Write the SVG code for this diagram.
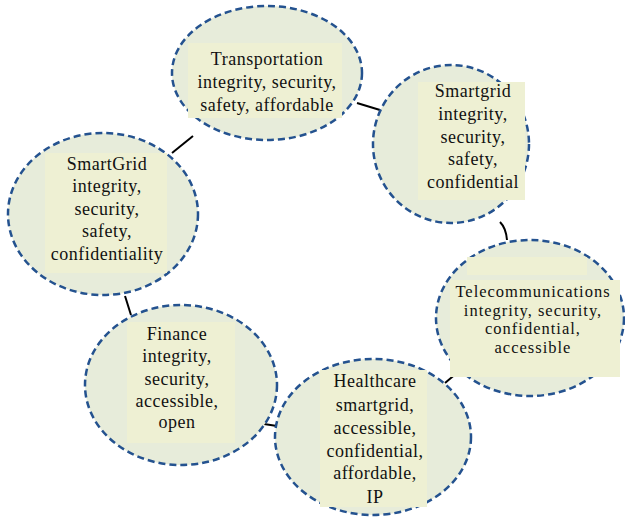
<svg xmlns="http://www.w3.org/2000/svg" width="625" height="519" viewBox="0 0 625 519">
<style>
.e{fill:#e7ecda;stroke:#24528f;stroke-width:2.5;stroke-dasharray:7 4}
.b{fill:#eef0d3}
.t{font-family:"Liberation Serif","Times New Roman",serif;font-size:18px;fill:#111;text-anchor:middle;letter-spacing:0.5px}
.s{font-size:16.5px;letter-spacing:1px}
.c{fill:none;stroke:#000;stroke-width:2}
</style>
<rect width="625" height="519" fill="#fff"/>
<g id="connectors">
<path class="c" d="M357 103 L380 110"/>
<path class="c" d="M172 153 L193 136"/>
<path class="c" d="M500 222 Q506 228 507 240"/>
<path class="c" d="M458 372 L445 383"/>
<path class="c" d="M264 424 L277 426"/>
<path class="c" d="M125 296 L131 315"/>
</g>
<g id="transportation">
<ellipse class="e" cx="267" cy="73" rx="95" ry="67"/>
<rect class="b" x="188" y="43" width="154" height="75"/>
<text class="t" x="267" y="65">Transportation</text>
<text class="t" x="267" y="88">integrity, security,</text>
<text class="t" x="267" y="111">safety, affordable</text>
</g>
<g id="smartgrid-right">
<ellipse class="e" cx="451" cy="144" rx="78" ry="79"/>
<rect class="b" x="418" y="82" width="107" height="118"/>
<text class="t" x="473" y="97">Smartgrid</text>
<text class="t" x="473" y="120">integrity,</text>
<text class="t" x="473" y="143">security,</text>
<text class="t" x="473" y="165">safety,</text>
<text class="t" x="473" y="188">confidential</text>
</g>
<g id="smartgrid-left">
<ellipse class="e" cx="103" cy="214" rx="95" ry="81"/>
<rect class="b" x="45" y="153" width="122" height="120"/>
<text class="t" x="107" y="170">SmartGrid</text>
<text class="t" x="107" y="192">integrity,</text>
<text class="t" x="107" y="215">security,</text>
<text class="t" x="107" y="237">safety,</text>
<text class="t" x="107" y="260">confidentiality</text>
</g>
<g id="telecommunications">
<ellipse class="e" cx="530" cy="318" rx="94" ry="78"/>
<rect class="b" x="467" y="257" width="120" height="18"/>
<rect class="b" x="450" y="280" width="170" height="97"/>
<text class="t s" x="533" y="297">Telecommunications</text>
<text class="t s" x="533" y="316">integrity, security,</text>
<text class="t s" x="533" y="334">confidential,</text>
<text class="t s" x="533" y="353">accessible</text>
</g>
<g id="finance">
<ellipse class="e" cx="181" cy="385" rx="96" ry="80"/>
<rect class="b" x="127" y="322" width="108" height="121"/>
<text class="t" x="177" y="340">Finance</text>
<text class="t" x="177" y="362">integrity,</text>
<text class="t" x="177" y="385">security,</text>
<text class="t" x="177" y="407">accessible,</text>
<text class="t" x="177" y="428">open</text>
</g>
<g id="healthcare">
<ellipse class="e" cx="373" cy="437" rx="98" ry="78"/>
<rect class="b" x="320" y="370" width="107" height="137"/>
<text class="t" x="375" y="387">Healthcare</text>
<text class="t" x="375" y="411">smartgrid,</text>
<text class="t" x="375" y="434">accessible,</text>
<text class="t" x="375" y="457">confidential,</text>
<text class="t" x="375" y="479">affordable,</text>
<text class="t" x="375" y="503">IP</text>
</g>
</svg>
